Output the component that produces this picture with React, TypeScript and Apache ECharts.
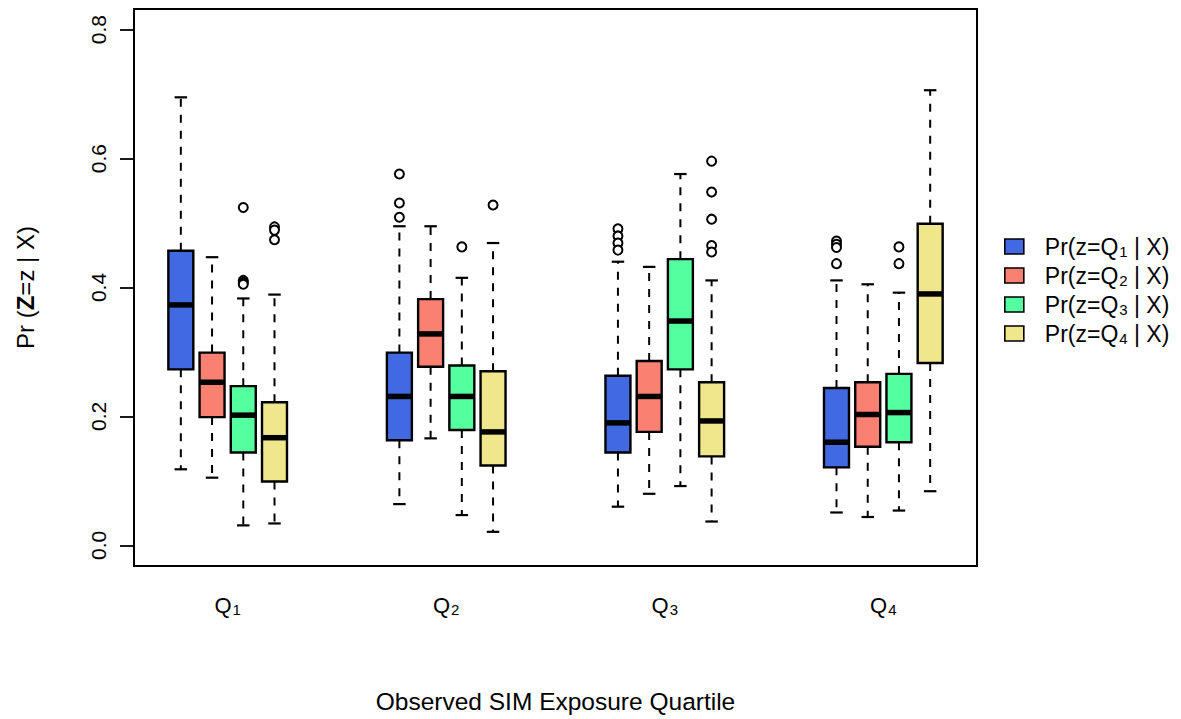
import React, { useEffect, useRef } from "react";
import * as echarts from "echarts";

// Observed SIM exposure quartile groups (x axis)
const groupSubscripts = ["1", "2", "3", "4"];
const legendNames = ["Pr(z=Q1 | X)", "Pr(z=Q2 | X)", "Pr(z=Q3 | X)", "Pr(z=Q4 | X)"];
const seriesColors = ["#4169E1", "#FA8072", "#54FF9F", "#F0E68C"];
const yTicks = [0, 0.2, 0.4, 0.6, 0.8];

// [lower whisker, Q1, median, Q3, upper whisker], one row per observed quartile group
const boxesZ1 = [
  [0.118, 0.273, 0.373, 0.457, 0.695],
  [0.064, 0.163, 0.231, 0.299, 0.495],
  [0.06, 0.144, 0.19, 0.263, 0.44],
  [0.051, 0.121, 0.16, 0.244, 0.411],
];
const boxesZ2 = [
  [0.105, 0.199, 0.253, 0.299, 0.447],
  [0.166, 0.277, 0.328, 0.382, 0.495],
  [0.08, 0.176, 0.231, 0.286, 0.432],
  [0.044, 0.153, 0.203, 0.253, 0.405],
];
const boxesZ3 = [
  [0.031, 0.144, 0.202, 0.247, 0.383],
  [0.047, 0.179, 0.231, 0.279, 0.415],
  [0.092, 0.273, 0.348, 0.444, 0.576],
  [0.054, 0.16, 0.206, 0.266, 0.392],
];
const boxesZ4 = [
  [0.034, 0.099, 0.167, 0.222, 0.389],
  [0.021, 0.124, 0.176, 0.27, 0.469],
  [0.037, 0.138, 0.193, 0.253, 0.411],
  [0.084, 0.283, 0.39, 0.499, 0.706],
];

// outliers, one list per observed quartile group
const outliersZ1 = [[], [0.576, 0.531, 0.509], [0.491, 0.48, 0.469, 0.458], [0.472, 0.467, 0.462, 0.437]];
const outliersZ2 = [[], [], [], []];
const outliersZ3 = [[0.524, 0.411, 0.408, 0.405], [0.463], [], [0.463, 0.437]];
const outliersZ4 = [[0.494, 0.489, 0.474], [0.528], [0.596, 0.548, 0.506, 0.465, 0.455], []];

const allBoxes = [boxesZ1, boxesZ2, boxesZ3, boxesZ4];
const allOutliers = [outliersZ1, outliersZ2, outliersZ3, outliersZ4];

const FONT = "Liberation Sans";

export default function App() {
  const ref = useRef<HTMLDivElement>(null);

  useEffect(() => {
    if (!ref.current) return;
    const chart = echarts.init(ref.current, undefined, { renderer: "svg" });

    const pos = (g: number, s: number) => g * 7 + s + 1;

    const boxSeries = allBoxes.map((boxes, s) => ({
      type: "custom",
      name: legendNames[s],
      itemStyle: { color: seriesColors[s] },
      encode: { x: 0, y: [1, 2, 3, 4, 5] },
      data: boxes.map((b, g) => [pos(g, s), ...b]),
      renderItem: (params: any, api: any) => {
        const x = api.value(0);
        const lo = api.coord([x, api.value(1)]);
        const q1 = api.coord([x, api.value(2)]);
        const md = api.coord([x, api.value(3)]);
        const q3 = api.coord([x, api.value(4)]);
        const hi = api.coord([x, api.value(5)]);
        const w = api.size([0.8, 0])[0];
        const cx = lo[0];
        const half = w / 2;
        const capHalf = w / 4;
        const dash = { stroke: "#000", lineWidth: 2, lineDash: [8, 8] };
        const solid = { stroke: "#000", lineWidth: 2.2 };
        return {
          type: "group",
          children: [
            { type: "line", shape: { x1: cx, y1: q3[1], x2: cx, y2: hi[1] }, style: dash },
            { type: "line", shape: { x1: cx, y1: q1[1], x2: cx, y2: lo[1] }, style: dash },
            { type: "line", shape: { x1: cx - capHalf, y1: hi[1], x2: cx + capHalf, y2: hi[1] }, style: solid },
            { type: "line", shape: { x1: cx - capHalf, y1: lo[1], x2: cx + capHalf, y2: lo[1] }, style: solid },
            {
              type: "rect",
              shape: { x: cx - half, y: q3[1], width: w, height: q1[1] - q3[1] },
              style: { fill: seriesColors[s], stroke: "#000", lineWidth: 2.4 },
            },
            { type: "line", shape: { x1: cx - half, y1: md[1], x2: cx + half, y2: md[1] }, style: { stroke: "#000", lineWidth: 5.5 } },
          ],
        };
      },
    }));

    const outlierSeries = allOutliers.map((outs, s) => ({
      type: "scatter",
      name: "outliers" + (s + 1),
      symbol: "circle",
      symbolSize: 9,
      itemStyle: { color: "#fff", borderColor: "#000", borderWidth: 2, opacity: 1 },
      data: outs.flatMap((vals, g) => vals.map((v) => [pos(g, s), v])),
      z: 3,
    }));

    chart.setOption({
      animation: false,
      backgroundColor: "#fff",
      textStyle: { fontFamily: FONT },
      grid: {
        left: 134,
        top: 9,
        width: 843,
        height: 558,
        show: true,
        borderColor: "#000",
        borderWidth: 2,
        backgroundColor: "transparent",
      },
      legend: {
        data: legendNames,
        orient: "vertical",
        left: 999,
        top: 229,
        itemWidth: 19,
        itemHeight: 15,
        itemGap: 4,
        selectedMode: false,
        icon: "rect",
        itemStyle: { borderColor: "#000", borderWidth: 1.6 },
        formatter: (name: string) => {
          const i = legendNames.indexOf(name);
          return `{a|Pr(z=Q}{s|${i + 1}}{b| | X)}`;
        },
        textStyle: {
          fontFamily: FONT,
          fontSize: 23,
          color: "#000",
          lineHeight: 25,
          rich: {
            a: { fontFamily: FONT, fontSize: 23, color: "#000", padding: [0, 0, 0, 16], lineHeight: 25 },
            s: { fontFamily: FONT, fontSize: 15, color: "#000", padding: [9, 0, 0, 1], lineHeight: 15 },
            b: { fontFamily: FONT, fontSize: 23, color: "#000", lineHeight: 25 },
          },
        },
      },
      xAxis: {
        type: "value",
        min: -0.5,
        max: 26.5,
        name: "Observed SIM Exposure Quartile",
        nameLocation: "middle",
        nameGap: 123,
        nameMoveOverlap: false,
        nameTextStyle: { fontFamily: FONT, fontSize: 24.5, color: "#000" },
        axisLine: { show: false, onZero: false },
        axisTick: { show: false },
        splitLine: { show: false },
        axisLabel: {
          customValues: [2.5, 9.5, 16.5, 23.5],
          margin: 27,
          formatter: (v: number) => {
            const g = Math.round((v - 2.5) / 7);
            return `{q|Q}{s|${groupSubscripts[g]}}`;
          },
          rich: {
            q: { fontFamily: FONT, fontSize: 22, color: "#000", lineHeight: 24 },
            s: { fontFamily: FONT, fontSize: 15, color: "#000", padding: [9, 0, 0, 1], lineHeight: 15 },
          },
        },
      },
      yAxis: {
        type: "value",
        min: -0.032,
        max: 0.832,
        name: "{n|Pr (}{z|Z}{n|=z | X)}",
        nameLocation: "middle",
        nameRotate: 90,
        nameGap: 97,
        nameMoveOverlap: false,
        nameTextStyle: {
          fontFamily: FONT,
          fontSize: 24,
          color: "#000",
          rich: {
            n: { fontFamily: FONT, fontSize: 24, color: "#000" },
            z: { fontFamily: FONT, fontSize: 24, color: "#000", fontWeight: "bold" },
          },
        },
        axisLine: { show: false, onZero: false },
        splitLine: { show: false },
        axisTick: {
          show: true,
          customValues: yTicks,
          length: 14,
          lineStyle: { color: "#000", width: 1.8 },
        },
        axisLabel: {
          customValues: yTicks,
          rotate: 90,
          margin: 25,
          fontFamily: FONT,
          fontSize: 21,
          color: "#000",
          formatter: (v: number) => v.toFixed(1),
        },
      },
      series: [...boxSeries, ...outlierSeries],
    });

    return () => chart.dispose();
  }, []);

  return <div ref={ref} style={{ position: "fixed", left: 0, top: 0, width: 1181, height: 719 }} />;
}
